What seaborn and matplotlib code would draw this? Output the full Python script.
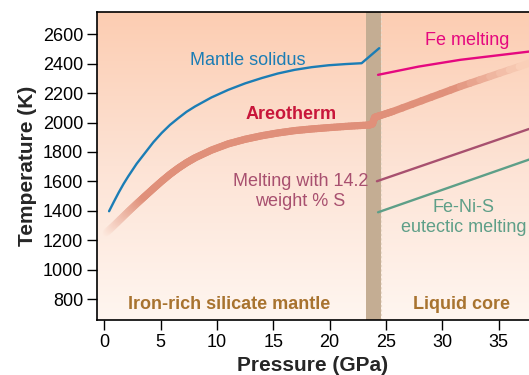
import numpy as np
import pandas as pd
import matplotlib
matplotlib.use("Agg")
import matplotlib.pyplot as plt
from matplotlib.colors import LinearSegmentedColormap, to_rgba
from matplotlib.collections import LineCollection
import seaborn as sns

# ---- data (pressure in GPa, temperature in K) ----
solidus_p = [0.42, 0.85, 1.28, 1.7, 2.13, 2.87, 3.61, 4.35, 5.09, 5.83, 6.57, 7.3, 8.05, 9.5,
             11.0, 12.5, 13.97, 15.4, 16.9, 18.4, 19.9, 21.4, 22.84, 24.4]
solidus_t = [1397, 1462, 1525, 1582, 1635, 1720, 1793, 1866, 1929, 1984, 2030, 2073, 2109, 2170,
             2222, 2266, 2302, 2333, 2358, 2376, 2389, 2397, 2403, 2505]

areo_p = [0.15, 0.8, 1.5, 2.2, 2.9, 3.6, 4.35, 5.09, 5.83, 6.57, 7.3, 8.05, 9.5, 11.0, 12.5,
          13.97, 15.4, 16.9, 18.4, 19.9, 21.7, 23.5, 23.8, 24.0, 24.4, 25.6, 31.6, 37.7]
areo_t = [1250, 1296, 1348, 1400, 1450, 1499, 1551, 1601, 1648, 1690, 1727, 1760, 1812, 1855, 1886,
          1910, 1929, 1945, 1956, 1965, 1975, 1983, 1990, 2035, 2045, 2075, 2245, 2403]

fe_p = [24.3, 27.9, 31.6, 37.7]
fe_t = [2324, 2380, 2426, 2482]

fes_p = [24.2, 37.7]
fes_t = [1601, 1956]

fenis_p = [24.3, 37.7]
fenis_t = [1390, 1748]

band_lo, band_hi = 23.2, 24.6

x_ticks = [0, 5, 10, 15, 20, 25, 30, 35]
y_ticks = [800, 1000, 1200, 1400, 1600, 1800, 2000, 2200, 2400, 2600]

# colours
c_solidus = "#1b7db5"
c_areo = "#e0907a"
c_areo_txt = "#c8163a"
c_fe = "#e5087f"
c_fes = "#a8506f"
c_fenis = "#5e9f88"
c_band = "#c4ad93"
c_region = "#a8732f"

xlim = (-0.65, 37.7)
ylim = (658, 2751)

sns.set_style("ticks")
plt.rcParams["font.family"] = ["Liberation Sans", "DejaVu Sans"]

fig = plt.figure(figsize=(5.29, 3.75), dpi=100)
ax = fig.add_axes([0.1834, 0.1467, 0.8166, 0.8213])

# background gradient (salmon at top -> near white at bottom)
bg = LinearSegmentedColormap.from_list("bg", ["#fff6f0", "#fde3d5", "#fccdb2"])
grad = np.linspace(0, 1, 256).reshape(-1, 1)
ax.imshow(grad, cmap=bg, origin="lower", extent=[0, 1, 0, 1],
          transform=ax.transAxes, aspect="auto", zorder=0)

# transition band between mantle and core
ax.axvspan(band_lo, band_hi, color=c_band, zorder=1, lw=0)
ax.axvline(band_hi, color="#eadbcb", lw=0.8, ls=(0, (2, 2)), zorder=1)

# areotherm: thick band that fades into the background at both ends
pts = []
for i in range(len(areo_p) - 1):
    xs = np.linspace(areo_p[i], areo_p[i + 1], 8)
    ys = np.linspace(areo_t[i], areo_t[i + 1], 8)
    pts.extend(zip(xs[:-1], ys[:-1]))
pts.append((areo_p[-1], areo_t[-1]))
pts = np.array(pts)
segs = np.stack([pts[:-1], pts[1:]], axis=1)
mid_x = segs[:, :, 0].mean(axis=1)
mid_y = segs[:, :, 1].mean(axis=1)
alpha = np.clip((mid_x - 0.1) / 3.5, 0, 1) * np.clip(1 - (mid_x - 31.0) / 6.8, 0.04, 1)
base = np.array(to_rgba(c_areo))
cols = []
for a, yv in zip(alpha, mid_y):
    back = np.array(bg((yv - ylim[0]) / (ylim[1] - ylim[0])))
    cols.append(tuple(a * base[:3] + (1 - a) * back[:3]) + (1.0,))
lc = LineCollection(segs, colors=cols, linewidths=5.2, capstyle="round",
                    joinstyle="round", zorder=3)
ax.add_collection(lc)

# melting curves
sns.lineplot(x=solidus_p, y=solidus_t, color=c_solidus, lw=1.7, ax=ax, zorder=4)
sns.lineplot(x=fe_p, y=fe_t, color=c_fe, lw=1.7, ax=ax, zorder=4)
sns.lineplot(x=fes_p, y=fes_t, color=c_fes, lw=1.7, ax=ax, zorder=4)
sns.lineplot(x=fenis_p, y=fenis_t, color=c_fenis, lw=1.7, ax=ax, zorder=4)

# labels
fs = 13
ax.text(12.75, 2421, "Mantle solidus", color=c_solidus, fontsize=fs, ha="center", va="center", zorder=5)
ax.text(16.6, 2053, "Areotherm", color=c_areo_txt, fontsize=fs, fontweight="bold", ha="center", va="center", zorder=5)
ax.text(17.4, 1530, "Melting with 14.2\nweight % S", color=c_fes, fontsize=fs, ha="center",
        va="center", linespacing=1.2, zorder=5)
ax.text(32.2, 2557, "Fe melting", color=c_fe, fontsize=fs, ha="center", va="center", zorder=5)
ax.text(31.9, 1355, "Fe-Ni-S\neutectic melting", color=c_fenis, fontsize=fs, ha="center",
        va="center", linespacing=1.2, zorder=5)
ax.text(11.1, 765, "Iron-rich silicate mantle", color=c_region, fontsize=fs, fontweight="bold",
        ha="center", va="center", zorder=5)
ax.text(31.7, 765, "Liquid core", color=c_region, fontsize=fs, fontweight="bold",
        ha="center", va="center", zorder=5)

ax.set_xlim(*xlim)
ax.set_ylim(*ylim)
ax.set_xticks(x_ticks)
ax.set_yticks(y_ticks)
ax.tick_params(direction="out", length=7, width=1, labelsize=13, colors="black", pad=3)
ax.set_xlabel("Pressure (GPa)", fontsize=15, fontweight="bold", labelpad=4)
ax.set_ylabel("Temperature (K)", fontsize=15, fontweight="bold", labelpad=4)

for s in ["left", "bottom", "top"]:
    ax.spines[s].set_color("black")
    ax.spines[s].set_linewidth(1.2)
ax.spines["right"].set_visible(False)
ax.grid(False)

fig.savefig("out.png", dpi=100)
